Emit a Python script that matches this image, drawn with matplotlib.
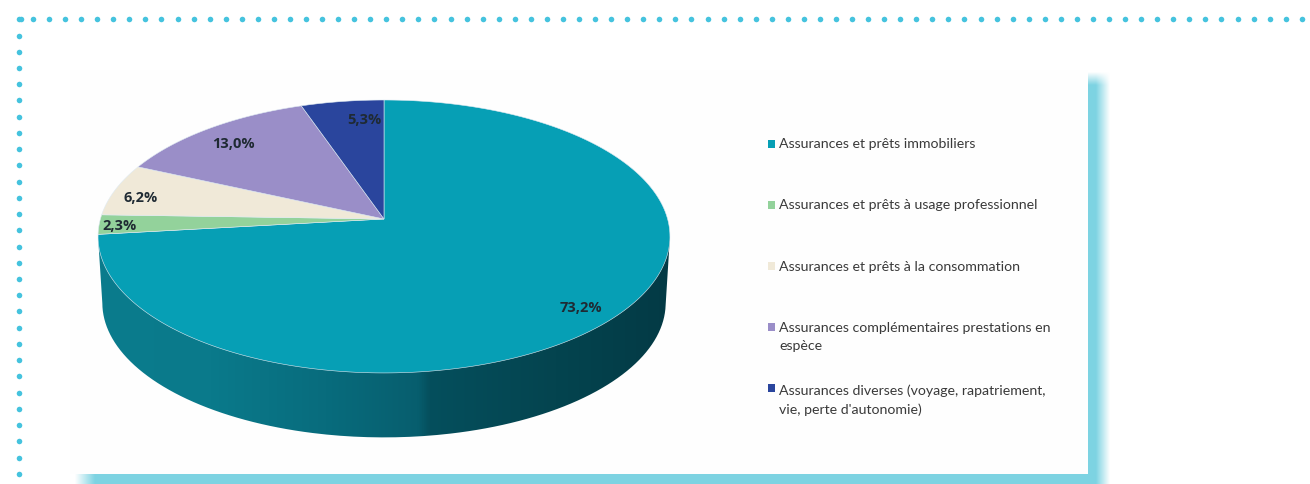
import numpy as np
import matplotlib
matplotlib.use('Agg')
import matplotlib.pyplot as plt
from matplotlib.colors import LinearSegmentedColormap
from matplotlib.patches import PathPatch, Polygon
from matplotlib.path import Path

# Chart data
categories = [
    'Assurances et prêts immobiliers',
    'Assurances et prêts à usage professionnel',
    'Assurances et prêts à la consommation',
    'Assurances complémentaires prestations en\nespèce',
    'Assurances diverses (voyage, rapatriement,\nvie, perte d\'autonomie)',
]
shares = [73.2, 2.3, 6.2, 13.0, 5.3]
share_labels = ['73,2%', '2,3%', '6,2%', '13,0%', '5,3%']
colors = ['#069fb5', '#93d29b', '#f0e9d8', '#9a8ec8', '#2a459d']

W, H = 1310, 484
DOT = '#45c3de'
SHADOW = '#7dd3e2'

# Pie geometry, in pixels
CX, APEX_Y, MID_Y = 384, 219, 236.5
RADIUS, TILT, YSCALE = 283.6, 0.128, -106.2


def project(theta, scale=1.0, shift=0.0):
    """Clockwise angle from 12 o'clock (radians) to tilted-disc pixels."""
    x, y = np.sin(theta), np.cos(theta)
    w = 1 + TILT * y
    py = (YSCALE * y + APEX_Y) / w
    return (CX + scale * RADIUS * x / w,
            MID_Y + shift + scale * (py - MID_Y))


fig = plt.figure(figsize=(W / 100, H / 100), dpi=100, facecolor='white')
ax = fig.add_axes([0, 0, 1, 1])
ax.axis('off')

# --- Dotted frame ---
ax.scatter(33 + 16.06 * np.arange(80), np.full(80, 19.3), s=16, color=DOT, lw=0, zorder=1)
ax.scatter(np.full(29, 19.3), 19.3 + 16.23 * np.arange(29), s=16, color=DOT, lw=0, zorder=1)
ax.scatter([21], [19.3], s=16, color=DOT, lw=0, zorder=1)

# --- Card shadow, fading out on its outer edges ---
sx, sy = np.meshgrid(np.arange(72, 1120) + 0.5, np.arange(70, 484) + 0.5)
fade_right = np.clip((1110 - sx) / 14, 0, 1)
fade_top = np.clip((sy - 72) / 13, 0, 1)
fade_left = np.clip((sx - 75) / 20, 0, 1)
shadow = np.zeros(sx.shape + (4,))
shadow[..., :3] = matplotlib.colors.to_rgb(SHADOW)
shadow[..., 3] = fade_right * fade_top * fade_left
ax.imshow(shadow, extent=(72, 1120, 484, 70), aspect='auto', zorder=2, interpolation='bilinear')
ax.add_patch(plt.Rectangle((70, 70), 1018, 404, fc='#fefefe', ec='none', zorder=3))

# --- Pie side wall, with a horizontal gradient ---
arc = np.linspace(np.pi / 2 + 0.13, 3 * np.pi / 2 - 0.13, 200)
bx, by = project(arc, 0.985, 66.5)
tx, ty = project(arc[::-1])
wall = Path(np.column_stack([np.r_[tx[-1], bx, tx[0]], np.r_[ty[-1], by, ty[0]]]))
wall_patch = PathPatch(wall, fc='none', ec='none', zorder=4)
ax.add_patch(wall_patch)
wall_cmap = LinearSegmentedColormap.from_list('wall', [
    (0.0, '#0b7c8d'), (0.2, '#0a7a8b'), (0.4, '#086c7d'), (0.56, '#075e6e'),
    (0.58, '#054f5d'), (0.8, '#04444f'), (1.0, '#033a45')])
img = ax.imshow(np.linspace(0, 1, 256)[None, :], extent=(95, 672, 450, 230), aspect='auto',
                cmap=wall_cmap, zorder=4)
img.set_clip_path(wall_patch)

# --- Pie top face, clockwise from 12 o'clock ---
edges = np.r_[0, np.cumsum(shares)] / np.sum(shares) * 2 * np.pi
for start, end, color in zip(edges[:-1], edges[1:], colors):
    t = np.linspace(start, end, max(int((end - start) * 80), 8))
    px, py = project(t)
    pts = np.column_stack([np.r_[CX, px], np.r_[APEX_Y, py]])
    ax.add_patch(Polygon(pts, closed=True, fc=color, ec='#dfeaf2', lw=0.4, zorder=5))

# --- Value labels ---
label_xy = [(581, 308), (120, 226), (141, 198), (233, 144), (364, 120)]
for (lx, ly), text in zip(label_xy, share_labels):
    ax.text(lx, ly, text, ha='center', va='center', fontsize=10.5, fontweight='bold',
            family='Open Sans', color='#1f2a33', zorder=6)

# --- Legend ---
swatch_y = [144, 205, 266, 327, 388]
text_y = [144, 205, 267, 337, 400]
ax.scatter(np.full(5, 771.5), swatch_y, marker='s', s=26, c=colors, lw=0, zorder=6)
for y, label in zip(text_y, categories):
    ax.text(779, y, label, ha='left', va='center', fontsize=10.2, family='Lato',
            color='#3a3a3a', linespacing=1.65, zorder=6)

ax.set_xlim(0, W)
ax.set_ylim(H, 0)

plt.savefig('out.png', dpi=100)
plt.close()
